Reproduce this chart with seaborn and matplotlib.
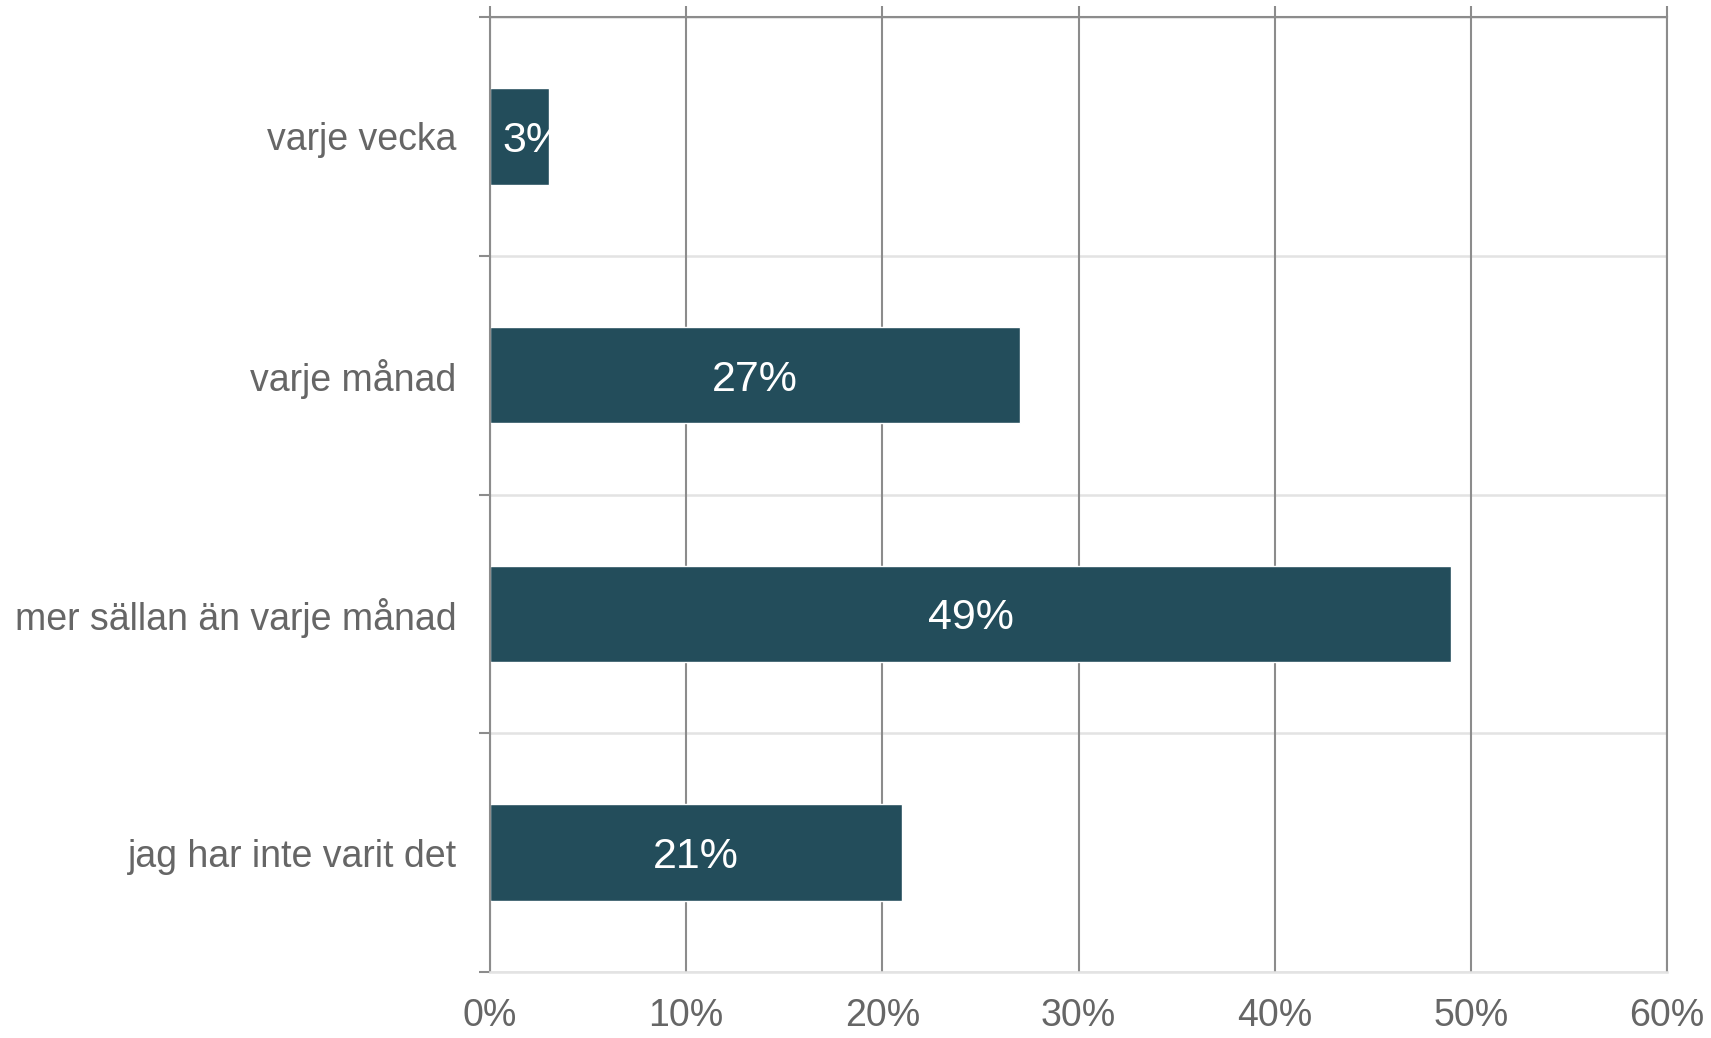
import matplotlib
matplotlib.use("Agg")
import matplotlib.pyplot as plt
import seaborn as sns
import numpy as np

categories = ["varje vecka", "varje månad", "mer sällan än varje månad", "jag har inte varit det"]
values = [3, 27, 49, 21]
xticks = [0, 10, 20, 30, 40, 50, 60]
xtick_labels = ["0%", "10%", "20%", "30%", "40%", "50%", "60%"]

sns.set_theme(style="white")
plt.rcParams["font.family"] = ["Liberation Sans", "DejaVu Sans"]

bar_color = "#234D5B"
grid_dark = "#8c8c8c"
grid_light = "#e3e3e3"
text_gray = "#666666"

fig = plt.figure(figsize=(17.11, 10.38), dpi=100)
ax = fig.add_axes([0.2864, 0.0636, 0.9743 - 0.2864, 0.9836 - 0.0636])

sns.barplot(x=values, y=categories, orient="h", color=bar_color, width=0.405,
            saturation=1, ax=ax, zorder=3)

ax.set_xlim(0, 60)
ax.set_ylim(3.5, -0.5)
ax.set_xticks(xticks)
ax.set_xticklabels(xtick_labels)
ax.set_xlabel("")
ax.set_ylabel("")

# vertical grid (dark), horizontal grid at category boundaries (light)
ax.grid(False)
for x in xticks:
    ax.axvline(x, color=grid_dark, lw=1.5, zorder=1)
ax.set_yticks(np.arange(-0.5, len(categories), 1.0), minor=True)
ax.grid(True, which="minor", axis="y", color=grid_light, lw=1.8, zorder=0)

ax.tick_params(axis="x", which="major", top=True, bottom=False, labelbottom=True,
               labeltop=False, direction="out", length=8, width=1.5,
               color=grid_dark, labelsize=27, labelcolor=text_gray, pad=11)
ax.tick_params(axis="y", which="major", length=0, labelsize=27,
               labelcolor=text_gray, pad=24)
ax.tick_params(axis="y", which="minor", left=True, direction="out", length=8,
               width=1.5, color=grid_dark)

for side in ["left", "top", "right"]:
    ax.spines[side].set_color(grid_dark)
    ax.spines[side].set_linewidth(1.5)
ax.spines["bottom"].set_color(grid_light)
ax.spines["bottom"].set_linewidth(1.8)
for s in ax.spines.values():
    s.set_zorder(4)

for cont in ax.containers:
    texts = ax.bar_label(cont, labels=[f"{v}%" for v in values], label_type="center",
                         color="white", fontsize=31, clip_on=True)
    for t, v in zip(texts, values):
        t.set_va("center_baseline")
        if v < 5:
            t.xyann = (10, 0)

fig.savefig("out.png", dpi=100)
